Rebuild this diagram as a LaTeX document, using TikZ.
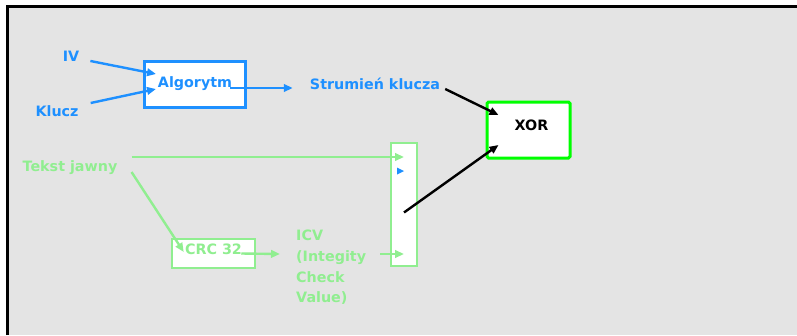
\documentclass[tikz,border=0pt]{standalone}
\usepackage{fontspec}
\setmainfont{DejaVu Sans}
\usetikzlibrary{arrows.meta}
\definecolor{kblue}{RGB}{30,144,255}
\definecolor{kgreen}{RGB}{144,238,144}
\definecolor{xgreen}{RGB}{0,255,0}
\definecolor{bggray}{RGB}{228,228,228}
\tikzset{
  lbl/.style={font=\bfseries\fontsize{14.3}{20.7}\selectfont, inner sep=0pt},
  box/.style={lbl, draw, fill=white, line width=3pt},
  link/.style={line width=2.4pt, -{Triangle[length=9pt,width=7.5pt]}},
}
\begin{document}
\begin{tikzpicture}[x=1pt,y=-1pt]
      \useasboundingbox (0,0) rectangle (797,335);
      \fill[bggray] (7,6) rectangle (797,335);
      \draw[line width=3pt] (7,335) -- (7,6) -- (797,6);
      \draw
        (71,56) node[lbl, kblue] (iv){IV}
        (57,111) node[lbl, kblue] (klucz){Klucz}
        (195,84) node[box, draw=kblue, text=kblue, minimum width=101, minimum height=46] (alg){Algorytm}
        (375,84) node[lbl, kblue] (stream){Strumień klucza}
        (528.5,130) node[box, draw=xgreen, rounded corners=1.5pt, text depth=10pt, minimum width=83, minimum height=56] (xor){\hspace{6pt}XOR}
        (70,168) node[lbl, kgreen] (tekst){Tekst jawny}
        (213.5,253.5) node[box, draw=kgreen, text=kgreen, line width=2.5pt, text depth=9pt, minimum width=83, minimum height=29] (crc){CRC 32}
        (296,230) node[lbl, kgreen, anchor=north west, align=left] (icv){ICV\\(Integity\\Check\\Value)}
        (404,204.5) node[box, draw=kgreen, line width=2.5pt, minimum width=26, minimum height=123] (tall){};
      \fill[kblue] (397,167.5) -- (404,171) -- (397,174.5) -- cycle;
      \begin{scope}[link]
        \draw[kblue] ([xshift=11pt,yshift=-5pt]iv.east) -- ([xshift=13pt,yshift=10pt]alg.west);
        \draw[kblue] ([xshift=12pt,yshift=8pt]klucz.east) -- ([xshift=13pt,yshift=-5pt]alg.west);
        \draw[kblue] ([xshift=-17pt,yshift=-4pt]alg.east) -- ([xshift=-17pt,yshift=-4pt]stream.west);
        \draw ([xshift=5pt,yshift=-5pt]stream.east) -- ([xshift=13pt,yshift=15pt]xor.west);
        \draw ([yshift=-8pt]tall.center) -- ([xshift=13pt,yshift=-15pt]xor.west);
        \draw[kgreen] ([xshift=14pt,yshift=11pt]tekst.east) -- ([yshift=-15.25pt]tall.north);
        \draw[kgreen] ([xshift=14pt,yshift=-4pt]tekst.east) -- ([xshift=13pt,yshift=1.5pt]crc.west);
        \draw[kgreen] ([xshift=-15pt]crc.east) -- ([xshift=-16pt,yshift=-24pt]icv.north west);
        \draw[kgreen] ([xshift=14pt,yshift=-24pt]icv.north east) -- ([yshift=13.25pt]tall.south);
      \end{scope}
    \end{tikzpicture}
\end{document}
